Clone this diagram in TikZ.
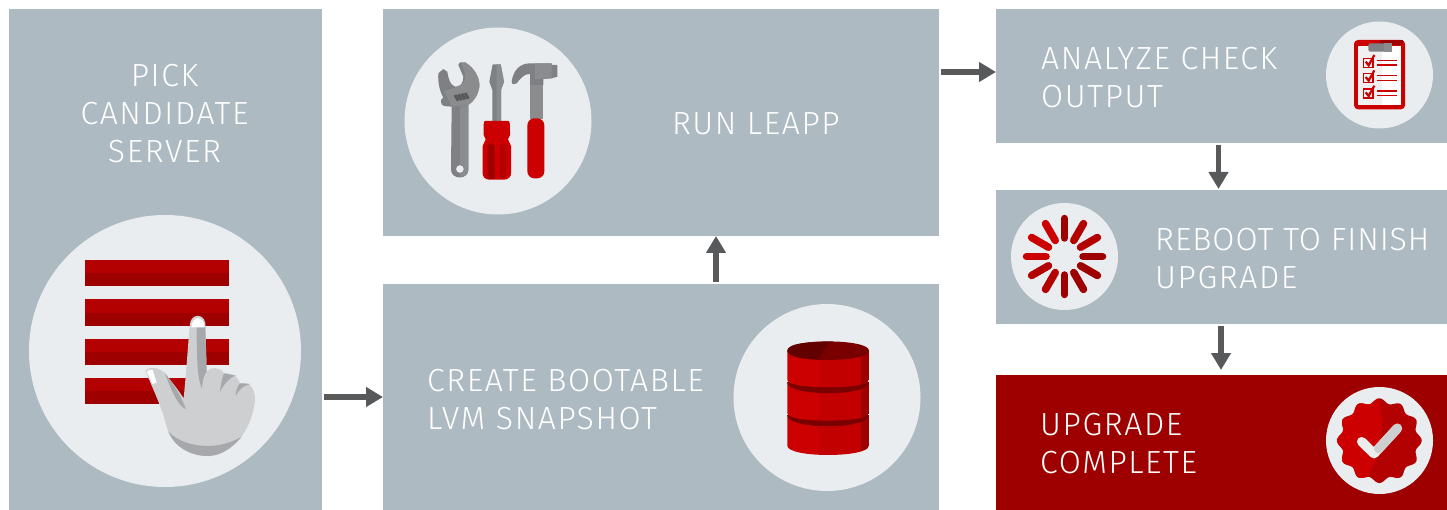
\documentclass[tikz,border=0pt]{standalone}
\usepackage{fontspec}
\setmainfont{Fira Sans}[UprightFont=* Light,LetterSpace=5.0]
\usetikzlibrary{arrows.meta,calc}
\definecolor{boxgray}{HTML}{ADBAC1}
\definecolor{disc}{HTML}{E9EDF0}
\definecolor{arrowgray}{HTML}{58595B}
\definecolor{rhdark}{HTML}{9E0000}
\definecolor{rhmid}{HTML}{B30000}
\definecolor{rhred}{HTML}{CC0000}
\definecolor{rhdeep}{HTML}{7A0000}
\definecolor{toolgray}{HTML}{7F8083}
\definecolor{toolmid}{HTML}{8B8C8E}
\definecolor{handgray}{HTML}{CDCFD1}
\definecolor{handshade}{HTML}{A6A8AB}
\tikzset{
  x=1pt,y=-1pt,
  blockbox/.style={draw=none,fill=boxgray,inner sep=0pt,outer sep=0pt,anchor=north west},
  redbox/.style={blockbox,fill=rhdark},
  discnode/.style={circle,fill=disc,draw=none,inner sep=0pt,outer sep=0pt,minimum size=#1},
  lbl/.style={text=white,inner sep=0pt,font=\fontsize{32}{38}\selectfont},
  flow/.style={draw=arrowgray,line width=5.5pt,-{Triangle[length=17pt,width=19pt]},shorten >=0pt,shorten <=2pt},
  icon/.style={shift={#1},xscale=1/3,yscale=1/3},
  spoke/.style={line width=7.5pt,line cap=round},
}
\begin{document}
\begin{tikzpicture}
\useasboundingbox (0,0) rectangle (1447,510);
% blocks
\node[blockbox,minimum width=313pt,minimum height=501pt] (cand) at (9,9) {};
\node[blockbox,minimum width=556pt,minimum height=227pt] (run) at (383,9) {};
\node[blockbox,minimum width=556pt,minimum height=226pt] (snap) at (383,284) {};
\node[blockbox,minimum width=451pt,minimum height=134pt] (check) at (996,9) {};
\node[blockbox,minimum width=451pt,minimum height=134pt] (reboot) at (996,190) {};
\node[redbox,minimum width=451pt,minimum height=135pt] (done) at (996,375) {};
% discs
\node[discnode=272pt] (d1) at (165,351) {};
\node[discnode=187pt] (d2) at (498,121) {};
\node[discnode=187pt] (d3) at (827,397.5) {};
\node[discnode=107pt] (d4) at (1379.5,75) {};
\node[discnode=107pt] (d5) at (1064.5,256.5) {};
\node[discnode=107pt] (d6) at (1379.5,440.5) {};
% labels
\node[lbl,align=center] (t1) at (164.5,114) {PICK\\CANDIDATE\\SERVER};
\node[lbl,anchor=west] (t2) at (672,124) {RUN LEAPP};
\node[lbl,anchor=west,align=left] (t3) at (427,400) {CREATE BOOTABLE\\LVM SNAPSHOT};
\node[lbl,anchor=west,align=left] (t4) at (1041,78) {ANALYZE CHECK\\OUTPUT};
\node[lbl,anchor=west,align=left] (t5) at (1155,259) {{\addfontfeature{LetterSpace=3.0}REBOOT TO FINISH}\\UPGRADE};
\node[lbl,anchor=west,align=left] (t6) at (1040,444) {UPGRADE\\COMPLETE};
% connectors
\coordinate (cx1) at (716,0);
\coordinate (cy1) at (0,72);
\coordinate (cx2) at (1218.5,0);
\coordinate (cx3) at (1221,0);
\draw[flow] (cand.east |- snap.west) -- (snap.west);
\draw[flow] (snap.north -| cx1) -- (run.south -| cx1);
\draw[flow] (run.east |- cy1) -- (check.west |- cy1);
\draw[flow,shorten >=1pt] (check.south -| cx2) -- (reboot.north -| cx2);
\draw[flow,shorten >=5pt] (reboot.south -| cx3) -- (done.north -| cx3);
% --- list + hand icon
\begin{scope}[icon={(20,210)}]
\foreach \y in {150,268,386,504}{
  \fill[rhdark] (195,\y) rectangle (627,\y+79);
  \fill[rhmid] (195,\y) rectangle (627,\y+40);
}
\fill[handgray] (376,482) .. controls (385,470) and (415,470) .. (435,490)
  .. controls (455,515) and (475,540) .. (491,565)
  -- (497,500) -- (506,385) -- (510,340)
  .. controls (515,310) and (552,310) .. (556,340)
  -- (560,485) .. controls (570,470) and (600,470) .. (612,490)
  .. controls (625,490) and (650,490) .. (660,520)
  .. controls (680,515) and (705,525) .. (705,570)
  .. controls (700,620) and (680,670) .. (640,705)
  .. controls (610,735) and (570,742) .. (530,735)
  .. controls (490,725) and (455,700) .. (440,650)
  .. controls (425,590) and (400,540) .. (376,482) -- cycle;
\fill[handshade] (445,665) .. controls (490,712) and (590,725) .. (665,680)
  .. controls (645,705) and (610,735) .. (570,738)
  .. controls (520,740) and (465,715) .. (445,665) -- cycle;
\fill[handshade] (530,350) -- (556,350) -- (560,485) .. controls (550,495) and (548,515) .. (546,535)
  .. controls (532,510) and (530,440) .. (530,350) -- cycle;
\fill[handshade] (435,490) .. controls (455,515) and (475,540) .. (498,598)
  .. controls (470,585) and (450,530) .. (435,490) -- cycle;
\fill[handshade] (612,490) .. controls (605,505) and (602,530) .. (600,545) .. controls (610,525) and (630,500) .. (648,497) -- cycle;
\fill[handshade] (660,520) .. controls (650,530) and (648,545) .. (647,558) .. controls (655,540) and (672,525) .. (692,522) -- cycle;
\fill[white] (514,352) .. controls (515,315) and (552,315) .. (554,352) -- cycle;
\fill[white] (380,484) .. controls (385,478) and (395,478) .. (398,480) -- (410,518) -- (397,522) -- cycle;
\end{scope}
% --- tools icon
\begin{scope}[icon={(400,30)}]
\fill[toolgray,even odd rule] (115,130) -- (130,117) -- (142,125) .. controls (145,145) and (150,165) .. (165,170)
  .. controls (180,172) and (190,160) .. (190,140) -- (175,105) -- (180,97) -- (195,97)
  .. controls (225,115) and (240,145) .. (238,170) .. controls (235,195) and (220,215) .. (205,225)
  -- (205,420) .. controls (203,450) and (155,450) .. (153,420) -- (155,230) -- (132,228)
  .. controls (120,225) and (120,205) .. (130,203) .. controls (120,185) and (113,160) .. (115,130) -- cycle
  (192,417) arc[radius=12,start angle=0,end angle=360];
\fill[toolmid] (180,230) -- (205,225) -- (205,420) .. controls (204,435) and (192,442) .. (180,440) -- (180,429)
  arc[radius=12,start angle=90,end angle=-90] -- cycle;
\fill[toolmid] (133,183) .. controls (150,178) and (170,172) .. (190,160) .. controls (200,150) and (195,125) .. (185,100)
  -- (195,97) .. controls (225,115) and (240,145) .. (238,170) .. controls (235,195) and (220,215) .. (205,225) -- (155,230) -- cycle;
\foreach \dx in {0,10,20,30}
  \draw[line width=3pt,arrowgray] (165+\dx,195-\dx*.2) -- (175+\dx,212-\dx*.2);
% screwdriver
\fill[toolgray] (278,103) -- (302,103) -- (312,155) -- (303,180) -- (303,275) -- (277,275) -- (277,180) -- (268,155) -- cycle;
\fill[toolmid] (290,103) -- (302,103) -- (312,155) -- (303,180) -- (303,275) -- (290,275) -- cycle;
\fill[rhred] (256,273) -- (324,273) .. controls (330,273) and (330,280) .. (330,315) -- (324,328) -- (333,348) -- (333,430)
  .. controls (333,440) and (325,449) .. (312,449) -- (268,449) .. controls (255,449) and (248,440) .. (248,430) -- (248,348) -- (257,328) -- (251,315)
  .. controls (251,280) and (250,273) .. (256,273) -- cycle;
\fill[rhdark] (263,345) .. controls (270,340) and (280,340) .. (284,345) -- (284,447) -- (268,447) -- (263,440) -- cycle;
\fill[rhmid] (300,345) .. controls (305,340) and (315,340) .. (318,345) -- (318,440) -- (312,447) -- (300,447) -- cycle;
% hammer
\fill[toolmid] (390,160) rectangle (430,268);
\fill[toolgray] (335,155) .. controls (340,120) and (360,100) .. (390,100) -- (455,100) -- (455,105) -- (472,105) -- (472,140)
  -- (455,145) -- (430,147) -- (430,165) -- (390,165) -- (390,132) .. controls (372,130) and (358,150) .. (350,160) .. controls (345,164) and (335,165) .. (335,155) -- cycle;
\fill[toolmid] (405,100) -- (455,100) -- (455,145) -- (405,147) -- cycle;
\fill[rhred,rounded corners=7pt] (382,265) rectangle (433,445);
\end{scope}
% --- database icon
\begin{scope}[icon={(730,300)}]
\foreach \ya/\yb/\ry in {345/437/28,245/340/22,152/240/22}{
  \begin{scope}
    \clip (172,\ya) -- (172,\yb) .. controls (172,\yb+1.33*\ry) and (417,\yb+1.33*\ry) .. (417,\yb) -- (417,\ya) -- cycle;
    \fill[rhred] (172,\ya) rectangle (265,\yb+\ry+2);
    \fill[rhmid!40!rhred] (265,\ya) rectangle (392,\yb+\ry+2);
    \fill[rhdark] (392,\ya) rectangle (417,\yb+\ry+2);
  \end{scope}
  \ifnum\ya=152\else
    \fill[rhdeep] (172,\ya) .. controls (172,\ya+46) and (417,\ya+46) .. (417,\ya) -- cycle;
  \fi
}
\fill[rhdeep] (172,152) .. controls (172,115) and (417,115) .. (417,152) .. controls (417,189) and (172,189) .. (172,152) -- cycle;
\fill[rhdeep!80!black] (172,152) .. controls (172,130) and (240,124) .. (310,125) .. controls (285,135) and (272,160) .. (268,179) .. controls (220,178) and (172,170) .. (172,152) -- cycle;
\end{scope}
% --- clipboard icon
\begin{scope}[icon={(1320,15)}]
\fill[rhred,rounded corners=4pt] (102,75) rectangle (255,283);
\fill[rhdark] (180,75) rectangle (250,90);
\fill[white!94!black] (115,92) rectangle (243,270);
\fill[white] (185,92) rectangle (243,270);
\fill[toolgray,rounded corners=2pt] (145,85) rectangle (215,110);
\fill[toolmid] (192,85) rectangle (215,110);
\foreach \y in {130,176,222}{
  \draw[rhred,line width=1.6pt] (131,\y) rectangle (159,\y+27);
  \draw[rhred,line width=2.2pt] (137,\y+10) -- (146,\y+21) -- (163,\y-10);
  \draw[rhred,line width=1.6pt] (172,\y+6) -- (232,\y+6);
  \draw[rhred,line width=1.6pt] (172,\y+20) -- (232,\y+20);
}
\end{scope}
% --- spinner icon
\foreach \a/\c in {90/rhdark,60/rhmid,30/rhmid,0/rhdark,-30/rhdark,-60/rhdark,-90/rhdark,-120/rhmid,-150/rhmid,180/rhred,150/rhred,120/rhred}{
  \draw[spoke,draw=\c] ($(d5.center)+({18.5*cos(\a)},{-18.5*sin(\a)})$) -- ($(d5.center)+({38*cos(\a)},{-38*sin(\a)})$);
}
% --- badge icon
\begin{scope}[icon={(1320,380)}]
\fill[rhmid] plot[domain=0:360,samples=181,smooth] ({178+(120+7*cos(12*\x))*cos(\x)},{182+(120+7*cos(12*\x))*sin(\x)}) -- cycle;
\begin{scope}
  \clip plot[domain=0:360,samples=181,smooth] ({178+(120+7*cos(12*\x))*cos(\x)},{182+(120+7*cos(12*\x))*sin(\x)}) -- cycle;
  \fill[rhred] (40,40) -- (168,40) .. controls (195,100) and (200,220) .. (120,320) -- (40,320) -- cycle;
\end{scope}
\draw[line width=9.5pt,line join=round,line cap=round,draw=white!93!black] (125,185) -- (162,221) -- (232,145);
\draw[line width=9.5pt,line cap=round,draw=handgray] (176,206) -- (232,145);
\end{scope}
\end{tikzpicture}
\end{document}
